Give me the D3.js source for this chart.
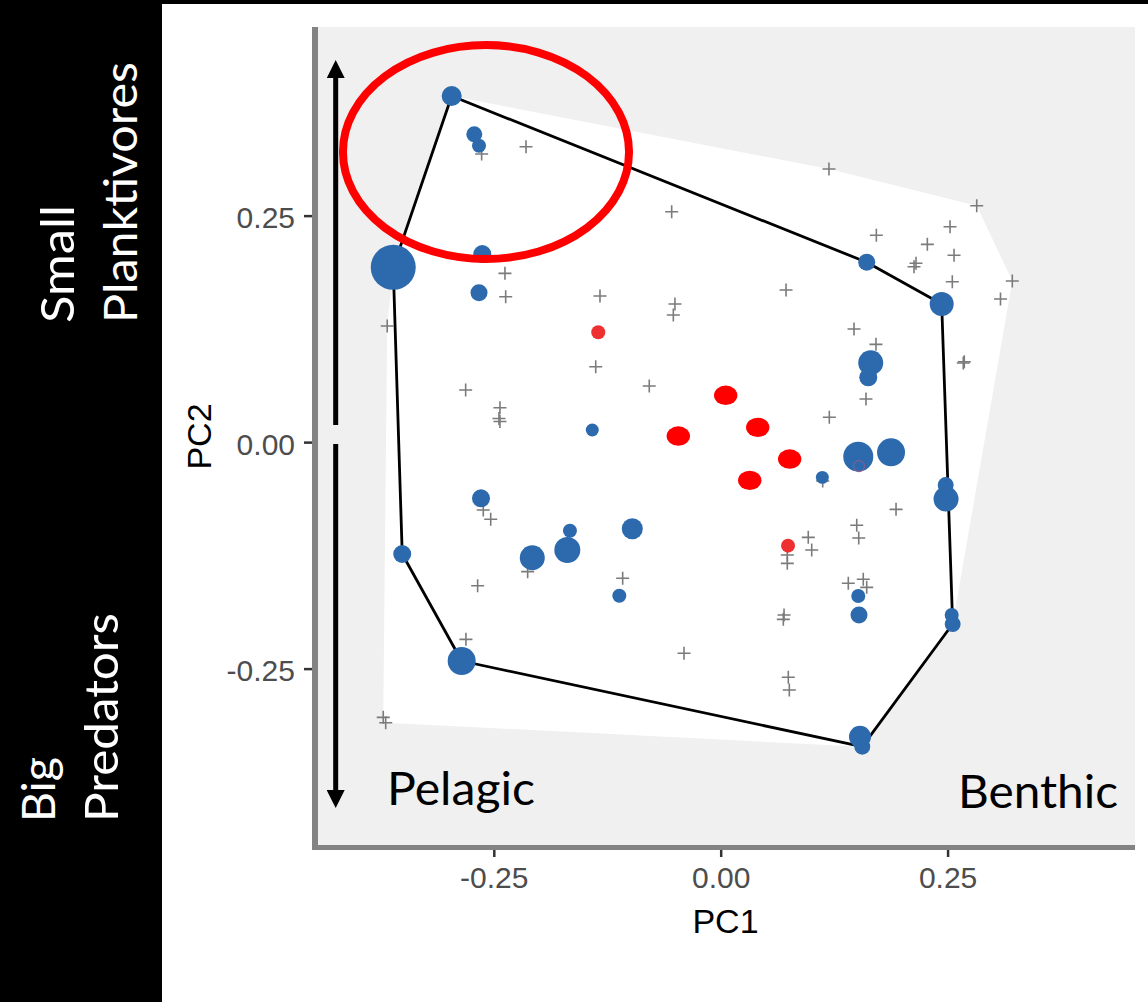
<!DOCTYPE html>
<html>
<head>
<meta charset="utf-8">
<script src="https://cdn.jsdelivr.net/npm/d3@7"></script>
<style>
  html, body { margin: 0; padding: 0; background: #ffffff; }
  svg { display: block; }
</style>
</head>
<body>
<svg id="chart" width="1148" height="1002"></svg>
<script>
// ---------------- DATA ----------------
// Species scores (grey "+")
const plusPC1 = [-0.2634,-0.2145,-0.0540,-0.2377,-0.2369,-0.1330,-0.0504,-0.0522,0.1193,0.2821,
  0.1715,0.2527,0.2277,0.2571,0.2152,0.2130,0.2552,0.3213,0.0720,0.3083,
  -0.3674,-0.1377,-0.0787,-0.2810,-0.2432,-0.2443,-0.2432,-0.2616,-0.2534,-0.2127,
  -0.2678,-0.1080,0.1469,0.1711,0.2684,0.2673,0.1601,0.1197,0.1124,0.1932,
  0.1499,0.1521,0.0965,0.1003,0.0734,0.0734,0.1406,0.1571,0.1609,-0.2807,
  -0.0404,-0.3718,-0.3691,0.0698,0.0690,0.0745,0.0756];
const plusPC2 = [0.3180,0.3260,0.2543,0.1863,0.1605,0.1613,0.1524,0.1403,0.3014,0.2609,
  0.2283,0.2377,0.2183,0.2062,0.1974,0.1936,0.1770,0.1778,0.1679,0.1579,
  0.1281,0.0832,0.0619,0.0575,0.0380,0.0260,0.0227,-0.0749,-0.0852,-0.1430,
  -0.1585,-0.1503,0.1248,0.1079,0.0887,0.0873,0.0476,0.0274,-0.0429,-0.0742,
  -0.0918,-0.1058,-0.1051,-0.1191,-0.1246,-0.1338,-0.1558,-0.1514,-0.1603,-0.2177,
  -0.2331,-0.3038,-0.3097,-0.1908,-0.1956,-0.2596,-0.2736];

// Site scores (blue circles), with relative weight (circle area)
const bluePC1 = [-0.2964,-0.2715,-0.2663,-0.3608,-0.2627,-0.2663,-0.1415,-0.2641,-0.3509,-0.2076,
  -0.1661,-0.1690,-0.0974,-0.1117,-0.2854,0.1609,0.2435,0.1653,0.1626,0.1516,
  0.1877,0.1120,0.2479,0.2483,0.1516,0.1524,0.2545,0.2556,0.1535,0.1560];
const bluePC2 = [0.3820,0.3397,0.3272,0.1929,0.2076,0.1649,0.0134,-0.0620,-0.1235,-0.1276,
  -0.0978,-0.1191,-0.0956,-0.1695,-0.2416,0.1985,0.1524,0.0876,0.0715,-0.0161,
  -0.0113,-0.0389,-0.0474,-0.0628,-0.1699,-0.1908,-0.1908,-0.2008,-0.3252,-0.3362];
const blueWeight = [19.8,12.6,9.7,100,16,14.3,8.3,16,16,30.9,
  9.7,33.4,21.8,9.7,38.7,14.3,28.4,30.9,16,44.4,
  38.7,8.3,12.6,30.9,9.7,14.3,9.7,12.6,23.9,12.6];

// Highlighted points (large red)
const redBigPC1 = [0.0055,0.0408,0.0760,0.0320,-0.0467];
const redBigPC2 = [0.0517,0.0163,-0.0187,-0.0422,0.0067];
// Small red points
const redSmallPC1 = [-0.1349,0.0742];
const redSmallPC2 = [0.1212,-0.1143];
// faint red outline hidden under a blue circle
const redRingPC1 = [0.1524];
const redRingPC2 = [-0.0264];

// Axes
const tickValues = [-0.25, 0, 0.25];
const tickLabels = ["-0.25", "0.00", "0.25"];
const xDomain = [-0.4437, 0.4565];
const yDomain = [-0.4458, 0.4582];

// Annotation (data units)
const highlightEllipse = {cx: -0.2586, cy: 0.3202, rx: 0.1576, ry: 0.1181};
const arrowPC1 = -0.4242;
const arrowTop = [0.4206, 0.0189];
const arrowBottom = [-0.0021, -0.4028];

// ---------------- LAYOUT ----------------
const svg = d3.select("#chart");
const W = 1148, H = 1002;
const panel = {left: 318, right: 1135, top: 27, bottom: 846};

const x = d3.scaleLinear().domain(xDomain).range([panel.left, panel.right]);
const y = d3.scaleLinear().domain(yDomain).range([panel.bottom, panel.top]);
const r = d3.scaleSqrt().domain([0, 100]).range([0, 22.5]);

// white page
svg.append("rect").attr("width", W).attr("height", H).attr("fill", "#ffffff");

// panel background
svg.append("rect")
  .attr("x", panel.left).attr("y", panel.top)
  .attr("width", panel.right - panel.left).attr("height", panel.bottom - panel.top)
  .attr("fill", "#f0f0f0");

const plus = plusPC1.map((v, i) => ({x: v, y: plusPC2[i]}));
const blue = bluePC1.map((v, i) => ({x: v, y: bluePC2[i], w: blueWeight[i]}));
const redBig = redBigPC1.map((v, i) => ({x: v, y: redBigPC2[i]}));
const redSmall = redSmallPC1.map((v, i) => ({x: v, y: redSmallPC2[i]}));

// white hull of all points
const allPts = [...plus, ...blue, ...redBig, ...redSmall].map(d => [x(d.x), y(d.y)]);
const hullAll = d3.polygonHull(allPts);
svg.append("path")
  .attr("d", "M" + hullAll.join("L") + "Z")
  .attr("fill", "#ffffff");

// black hull of blue points
const hullBlue = d3.polygonHull(blue.map(d => [x(d.x), y(d.y)]));
svg.append("path")
  .attr("d", "M" + hullBlue.join("L") + "Z")
  .attr("fill", "none")
  .attr("stroke", "#000000")
  .attr("stroke-width", 2.8)
  .attr("stroke-linejoin", "round");

// plus markers
svg.append("g").selectAll("path").data(plus).join("path")
  .attr("transform", d => `translate(${x(d.x)},${y(d.y)})`)
  .attr("d", "M-6.5,0H6.5M0,-6.5V6.5")
  .attr("stroke", "#7b7b7b")
  .attr("stroke-width", 1.6)
  .attr("fill", "none");

// red ring
svg.append("g").selectAll("circle").data(redRingPC1.map((v,i)=>({x:v,y:redRingPC2[i]}))).join("circle")
  .attr("cx", d => x(d.x)).attr("cy", d => y(d.y)).attr("r", 5.5)
  .attr("fill", "none").attr("stroke", "#b04a7a").attr("stroke-width", 1.2).attr("opacity", 0.8);

// blue circles
svg.append("g").selectAll("circle").data(blue).join("circle")
  .attr("cx", d => x(d.x)).attr("cy", d => y(d.y)).attr("r", d => r(d.w))
  .attr("fill", "#2c6aad");

svg.append("g").selectAll("circle.ring").data(redRingPC1.map((v,i)=>({x:v,y:redRingPC2[i]}))).join("circle")
  .attr("cx", d => x(d.x)).attr("cy", d => y(d.y)).attr("r", 5.5)
  .attr("fill", "none").attr("stroke", "#a45a8c").attr("stroke-width", 1.2).attr("opacity", 0.7);

// small red points
svg.append("g").selectAll("circle").data(redSmall).join("circle")
  .attr("cx", d => x(d.x)).attr("cy", d => y(d.y)).attr("r", 7)
  .attr("fill", "#ee3030");

// big red ellipses
svg.append("g").selectAll("ellipse").data(redBig).join("ellipse")
  .attr("cx", d => x(d.x)).attr("cy", d => y(d.y)).attr("rx", 11.7).attr("ry", 9.7)
  .attr("fill", "#ff0000");

// axis lines
svg.append("line")
  .attr("x1", 315).attr("x2", 315).attr("y1", panel.top).attr("y2", 850)
  .attr("stroke", "#838383").attr("stroke-width", 6);
svg.append("line")
  .attr("x1", 312).attr("x2", panel.right).attr("y1", 847.5).attr("y2", 847.5)
  .attr("stroke", "#838383").attr("stroke-width", 5);

// axes
const yAxis = d3.axisLeft(y).tickValues(tickValues)
  .tickFormat((d, i) => tickLabels[i]).tickSize(8).tickPadding(9).tickSizeOuter(0);
const gy = svg.append("g").attr("transform", "translate(312,0)").call(yAxis);
gy.select(".domain").remove();
gy.selectAll(".tick line").attr("stroke", "#333333").attr("stroke-width", 2.5);
gy.selectAll(".tick text")
  .attr("font-family", "'Liberation Sans', Arial, sans-serif")
  .attr("font-size", 30).attr("fill", "#4d4d4d").attr("dy", "0.4em");

const xAxis = d3.axisBottom(x).tickValues(tickValues)
  .tickFormat((d, i) => tickLabels[i]).tickSize(7).tickPadding(10).tickSizeOuter(0);
const gx = svg.append("g").attr("transform", "translate(0,850)").call(xAxis);
gx.select(".domain").remove();
gx.selectAll(".tick line").attr("stroke", "#333333").attr("stroke-width", 2.5);
gx.selectAll(".tick text")
  .attr("font-family", "'Liberation Sans', Arial, sans-serif")
  .attr("font-size", 30).attr("fill", "#4d4d4d");

// axis titles
svg.append("text")
  .attr("x", (panel.left + panel.right) / 2 - 1).attr("y", 932.7)
  .attr("text-anchor", "middle")
  .attr("font-family", "'Liberation Sans', Arial, sans-serif")
  .attr("font-size", 34).attr("fill", "#000000")
  .text("PC1");
svg.append("text")
  .attr("transform", `translate(211,${(panel.top + panel.bottom) / 2}) rotate(-90)`)
  .attr("text-anchor", "middle")
  .attr("font-family", "'Liberation Sans', Arial, sans-serif")
  .attr("font-size", 34).attr("fill", "#000000")
  .text("PC2");

// highlight ellipse annotation
svg.append("ellipse")
  .attr("cx", x(highlightEllipse.cx)).attr("cy", y(highlightEllipse.cy))
  .attr("rx", x(highlightEllipse.rx) - x(0)).attr("ry", y(0) - y(highlightEllipse.ry))
  .attr("fill", "none").attr("stroke", "#ff0000").attr("stroke-width", 8);

// vertical double arrow with gap
const defs = svg.append("defs");
defs.append("marker").attr("id", "ah")
  .attr("viewBox", "0 0 10 10").attr("refX", 0).attr("refY", 5)
  .attr("markerWidth", 18).attr("markerHeight", 18).attr("markerUnits", "userSpaceOnUse")
  .attr("orient", "auto")
  .append("path").attr("d", "M0,0L10,5L0,10Z").attr("fill", "#000");
const ax = x(arrowPC1);
svg.append("line")
  .attr("x1", ax).attr("x2", ax)
  .attr("y1", y(arrowTop[1])).attr("y2", y(arrowTop[0]) + 17)
  .attr("stroke", "#000").attr("stroke-width", 5)
  .attr("marker-end", "url(#ah)");
svg.append("line")
  .attr("x1", ax).attr("x2", ax)
  .attr("y1", y(arrowBottom[0])).attr("y2", y(arrowBottom[1]) - 17)
  .attr("stroke", "#000").attr("stroke-width", 5)
  .attr("marker-end", "url(#ah)");

// Pelagic / Benthic
const labelFont = "Lato, 'Open Sans', sans-serif";
svg.append("text").attr("x", 387).attr("y", 805)
  .attr("font-family", labelFont).attr("font-size", 47)
  .attr("textLength", 148).attr("lengthAdjust", "spacingAndGlyphs")
  .attr("fill", "#000").text("Pelagic");
svg.append("text").attr("x", 958).attr("y", 808)
  .attr("font-family", labelFont).attr("font-size", 47)
  .attr("textLength", 160).attr("lengthAdjust", "spacingAndGlyphs")
  .attr("fill", "#000").text("Benthic");

// Left black band with rotated labels
svg.append("rect").attr("x", 0).attr("y", 0).attr("width", 162).attr("height", H).attr("fill", "#000");
svg.append("rect").attr("x", 0).attr("y", 0).attr("width", W).attr("height", 4).attr("fill", "#000");

const sideLabels = [
  {text: "Small", bx: 74, sy: 323, len: 118},
  {text: "Planktivores", bx: 137, sy: 323, len: 261},
  {text: "Big", bx: 55, sy: 822, len: 65},
  {text: "Predators", bx: 118, sy: 822, len: 209}
];
svg.append("g").selectAll("text").data(sideLabels).join("text")
  .attr("transform", d => `translate(${d.bx},${d.sy}) rotate(-90)`)
  .attr("font-family", labelFont).attr("font-size", 47)
  .attr("textLength", d => d.len).attr("lengthAdjust", "spacingAndGlyphs")
  .attr("fill", "#ffffff")
  .text(d => d.text);
</script>
</body>
</html>
